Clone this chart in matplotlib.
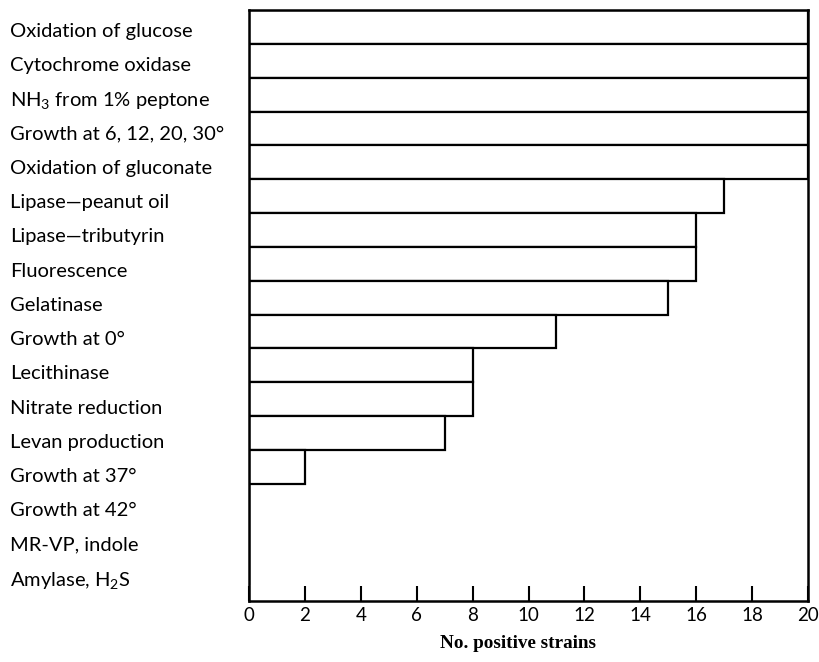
import matplotlib
matplotlib.use('Agg')
import matplotlib.pyplot as plt
from matplotlib.transforms import ScaledTranslation

# Dane
tests = ['Oxidation of glucose', 'Cytochrome oxidase', r'NH$_3$ from 1% peptone',
         'Growth at 6, 12, 20, 30°', 'Oxidation of gluconate', 'Lipase—peanut oil',
         'Lipase—tributyrin', 'Fluorescence', 'Gelatinase', 'Growth at 0°',
         'Lecithinase', 'Nitrate reduction', 'Levan production', 'Growth at 37°',
         'Growth at 42°', 'MR-VP, indole', r'Amylase, H$_2$S']
positive = [20, 20, 20, 20, 20, 17, 16, 16, 15, 11, 8, 8, 7, 2, 0, 0, 0]
xticks = [0, 2, 4, 6, 8, 10, 12, 14, 16, 18, 20]

plt.rcParams['font.family'] = ['Lato', 'DejaVu Sans']
plt.rcParams['mathtext.fontset'] = 'custom'
plt.rcParams['mathtext.rm'] = 'Lato'
plt.rcParams['mathtext.it'] = 'Lato:italic'

fig = plt.figure(figsize=(8.19, 6.62), dpi=100)
ax = fig.add_axes([249 / 819, 1 - 601 / 662, (808 - 249) / 819, (601 - 10) / 662])

ypos = list(range(len(tests)))
ax.barh(ypos, positive, height=1.0, color='white', edgecolor='black', linewidth=1.6)

ax.set_xlim(0, 20)
ax.set_ylim(16.96, -0.5)

ax.set_xticks(xticks)
ax.set_xticklabels([str(t) for t in xticks], fontsize=13.5)
ax.tick_params(axis='x', direction='in', length=11, width=1.5, pad=4)

ax.set_yticks(ypos)
ax.set_yticklabels(tests, fontsize=14.5, ha='left')
ax.tick_params(axis='y', length=0, pad=239 * 0.72)
for i, lab in enumerate(ax.get_yticklabels()):
    lab.set_transform(lab.get_transform() + ScaledTranslation(0, -(3 + i * 0.4) / 100, fig.dpi_scale_trans))

for s in ax.spines.values():
    s.set_linewidth(1.8)

fig.text(518 / 819, 1 - 643 / 662, 'No. positive strains', ha='center', va='center',
         fontsize=13.8, fontweight='bold', family='Liberation Serif')

fig.savefig('out.png', dpi=100)
